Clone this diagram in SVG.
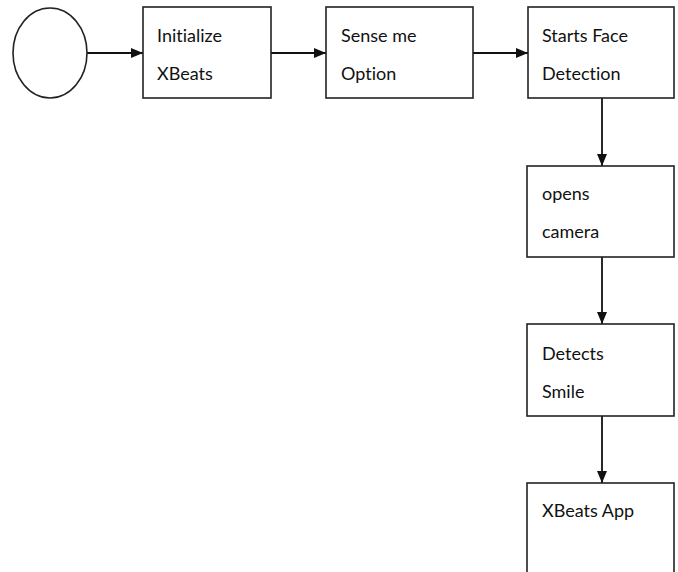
<svg xmlns="http://www.w3.org/2000/svg" width="678" height="572" viewBox="0 0 678 572">
<style>
.box{fill:#fff;stroke:#222;stroke-width:1.6}
.lbl{font-family:Lato,"Open Sans",sans-serif;font-size:18px;fill:#111;font-variant-ligatures:none;font-feature-settings:"liga" 0}
.con{stroke:#111;stroke-width:1.8;fill:none}
</style>
<defs>
<marker id="ah" viewBox="0 0 12 10" refX="12" refY="5" markerWidth="12" markerHeight="10" markerUnits="userSpaceOnUse" orient="auto">
<path d="M0,0 L12,5 L0,10 z" fill="#111"/>
</marker>
</defs>
<rect width="678" height="572" fill="#fff"/>
<g id="connectors">
<line class="con" x1="87" y1="53" x2="143" y2="53" marker-end="url(#ah)"/>
<line class="con" x1="271" y1="53" x2="326" y2="53" marker-end="url(#ah)"/>
<line class="con" x1="473" y1="53" x2="528" y2="53" marker-end="url(#ah)"/>
<line class="con" x1="602" y1="98" x2="602" y2="166" marker-end="url(#ah)"/>
<line class="con" x1="602" y1="257" x2="602" y2="324" marker-end="url(#ah)"/>
<line class="con" x1="602" y1="416" x2="602" y2="483" marker-end="url(#ah)"/>
</g>
<g id="start"><ellipse class="box" cx="50" cy="53" rx="37" ry="45"/></g>
<g id="n1"><rect class="box" x="143" y="7" width="128" height="91"/>
<text class="lbl" x="157" y="42">Initialize</text><text class="lbl" x="157" y="80">XBeats</text></g>
<g id="n2"><rect class="box" x="326" y="7" width="147" height="91"/>
<text class="lbl" x="341" y="42">Sense me</text><text class="lbl" x="341" y="80">Option</text></g>
<g id="n3"><rect class="box" x="528" y="7" width="146" height="91"/>
<text class="lbl" x="542" y="42">Starts Face</text><text class="lbl" x="542" y="80">Detection</text></g>
<g id="n4"><rect class="box" x="527" y="166" width="147" height="91"/>
<text class="lbl" x="542" y="200">opens</text><text class="lbl" x="542" y="238">camera</text></g>
<g id="n5"><rect class="box" x="527" y="324" width="147" height="92"/>
<text class="lbl" x="542" y="360">Detects</text><text class="lbl" x="542" y="398">Smile</text></g>
<g id="n6"><rect class="box" x="527" y="483" width="147" height="100"/>
<text class="lbl" x="542" y="517">XBeats App</text></g>
</svg>
